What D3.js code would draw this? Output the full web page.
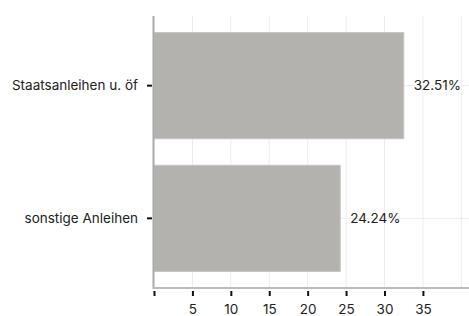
<!DOCTYPE html>
<html>
<head>
<meta charset="utf-8">
<style>
    body { margin: 0; background: #fff; }
    svg { display: block; font-family: Inter, 'Noto Sans', sans-serif; }
</style>
</head>
<body>
<svg width="469" height="316"></svg>
<script src="https://d3js.org/d3.v7.min.js"></script>
<script>
    // data
    let categories = ["Staatsanleihen u. öf", "sonstige Anleihen"];
    let values = [32.51, 24.24];
    let xTicks = [0, 5, 10, 15, 20, 25, 30, 35];
    let xTickLabels = ["", "5", "10", "15", "20", "25", "30", "35"];
    let gridTicks = [5, 10, 15, 20, 25, 30, 35, 40];

    let svg = d3.select("svg");
    let font = "Inter, sans-serif";
    let fs = "13.5px";

    let x = d3.scaleLinear().domain([0, 41]).range([154, 469]);
    let y = d3.scaleBand()
        .domain(categories)
        .range([16, 288])
        .paddingInner(0.2)
        .paddingOuter(0.125);

    // grid
    svg.selectAll(".vgrid")
        .data(gridTicks)
        .join("line")
        .attr("x1", d => x(d)).attr("x2", d => x(d))
        .attr("y1", 16).attr("y2", 288)
        .style("stroke", "#ececec")
        .style("stroke-width", 1);

    svg.selectAll(".hgrid")
        .data(categories)
        .join("line")
        .attr("x1", 154).attr("x2", 469)
        .attr("y1", d => y(d) + y.bandwidth() / 2)
        .attr("y2", d => y(d) + y.bandwidth() / 2)
        .style("stroke", "#ececec")
        .style("stroke-width", 1);

    // bars
    svg.selectAll(".bar")
        .data(values)
        .join("rect")
        .attr("x", x(0))
        .attr("y", (d, i) => y(categories[i]))
        .attr("width", d => x(d) - x(0))
        .attr("height", y.bandwidth())
        .style("fill", "#b3b2ae")
        .style("stroke", "#c6c5c1")
        .style("stroke-width", 1);

    svg.selectAll(".val")
        .data(values)
        .join("text")
        .attr("x", d => x(d) + 10)
        .attr("y", (d, i) => y(categories[i]) + y.bandwidth() / 2)
        .attr("dy", "0.35em")
        .style("font-size", fs)
        .style("font-family", font)
        .style("fill", "#222")
        .text(d => d.toFixed(2) + "%");

    // axes
    let xAxis = d3.axisBottom(x)
        .tickValues(xTicks)
        .tickFormat((d, i) => xTickLabels[i])
        .tickSize(5)
        .tickPadding(8);

    let gx = svg.append("g")
        .attr("transform", "translate(0,291)")
        .call(xAxis);
    gx.select(".domain").remove();
    gx.selectAll(".tick line").style("stroke", "#111").style("stroke-width", 2);
    gx.selectAll("text").style("font-size", fs).style("fill", "#222").style("font-family", font);

    let yAxis = d3.axisLeft(y).tickSize(5).tickPadding(9);
    let gy = svg.append("g")
        .attr("transform", "translate(152,0)")
        .call(yAxis);
    gy.select(".domain").remove();
    gy.selectAll(".tick line").style("stroke", "#111").style("stroke-width", 2);
    gy.selectAll("text").style("font-size", fs).style("fill", "#222").style("font-family", font);

    // axis lines
    svg.append("line")
        .attr("x1", 153.5).attr("x2", 153.5)
        .attr("y1", 16).attr("y2", 289)
        .style("stroke", "#aaa").style("stroke-width", 2);
    svg.append("line")
        .attr("x1", 153).attr("x2", 469)
        .attr("y1", 288).attr("y2", 288)
        .style("stroke", "#bbb").style("stroke-width", 2);
</script>
</body>
</html>
